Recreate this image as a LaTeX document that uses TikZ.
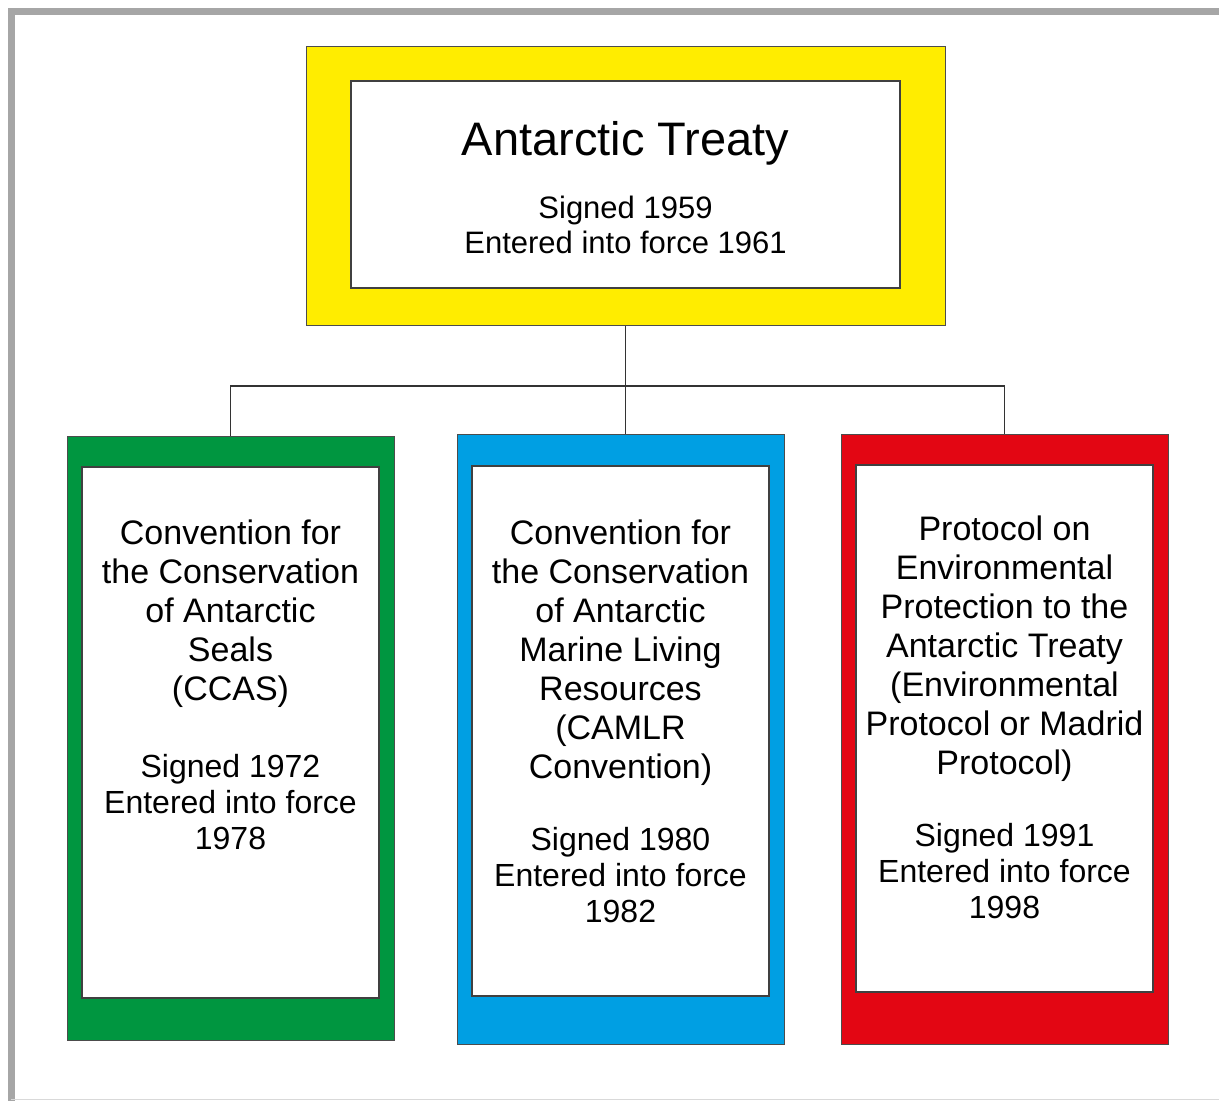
\documentclass[tikz,border=0pt]{standalone}
\usepackage{fontspec}
\setmainfont{Liberation Sans}
\usepackage{xcolor}
\usetikzlibrary{positioning}

\definecolor{atyellow}{HTML}{FFED00}
\definecolor{atgreen}{HTML}{009640}
\definecolor{atblue}{HTML}{009FE3}
\definecolor{atred}{HTML}{E30613}

\begin{document}
\begin{tikzpicture}[x=1pt,y=-1pt,
	outerbox/.style={draw=black!70, line width=1pt, inner sep=0pt},
	innerbox/.style={outerbox, fill=white, line width=1.3pt, draw=black!75},
	titletext/.style={inner sep=0pt, font=\fontsize{47}{52}\selectfont},
	nametext/.style={align=center, inner sep=0pt, font=\fontsize{34}{39}\selectfont},
	datetext/.style={align=center, inner sep=0pt, font=\fontsize{32}{36}\selectfont},
	link/.style={draw=black!80, line width=1.2pt}]
	\useasboundingbox (0,0) rectangle (1219,1101);
	\draw[line width=7pt, black!35] (11,1101) -- (11,11) -- (1219,11);
	\draw[line width=1pt, black!15] (11,1099) -- (1219,1099);

	% Antarctic Treaty
	\node[outerbox, fill=atyellow, minimum width=639pt, minimum height=279pt] (treaty) at (625.5,185.5) {};
	\node[innerbox, minimum width=549pt, minimum height=207pt] (treatyin) at (625.5,184.5) {};
	\node[titletext] (treatyname) at (625.5,143) {Antarctic Treaty};
	\node[datetext, font=\fontsize{31}{35}\selectfont] (treatydates) at (625.5,225) {Signed 1959\\Entered into force 1961};

	% CCAS
	\node[outerbox, fill=atgreen, minimum width=327pt, minimum height=604pt] (seals) at (230.5,738) {};
	\node[innerbox, minimum width=297pt, minimum height=531pt] (sealsin) at (230.5,732.5) {};
	\node[nametext] (sealsname) at (230.5,614) {Convention for\\the Conservation\\of Antarctic\\Seals\\(CCAS)};
	\node[datetext] (sealsdates) at (230.5,802.5) {Signed 1972\\Entered into force\\1978};

	% CAMLR Convention
	\node[outerbox, fill=atblue, minimum width=327pt, minimum height=610pt] (camlr) at (620.5,739) {};
	\node[innerbox, minimum width=297pt, minimum height=530pt] (camlrin) at (620.5,731) {};
	\node[nametext] (camlrname) at (620.5,653) {Convention for\\the Conservation\\of Antarctic\\Marine Living\\Resources\\(CAMLR\\Convention)};
	\node[datetext] (camlrdates) at (620.5,875) {Signed 1980\\Entered into force\\1982};

	% Madrid Protocol
	\node[outerbox, fill=atred, minimum width=327pt, minimum height=610pt] (protocol) at (1004.5,739) {};
	\node[innerbox, minimum width=297pt, minimum height=527pt] (protocolin) at (1004.5,728.5) {};
	\node[nametext] (protocolname) at (1004.5,649) {Protocol on\\Environmental\\Protection to the\\Antarctic Treaty\\(Environmental\\Protocol or Madrid\\Protocol)};
	\node[datetext] (protocoldates) at (1004.5,871) {Signed 1991\\Entered into force\\1998};

	\coordinate (bar) at (625.5,386);
	\draw[link] (treaty.south) -- (treaty.south |- camlr.north);
	\draw[link] (seals.north) |- (bar) -| (protocol.north);
\end{tikzpicture}
\end{document}
